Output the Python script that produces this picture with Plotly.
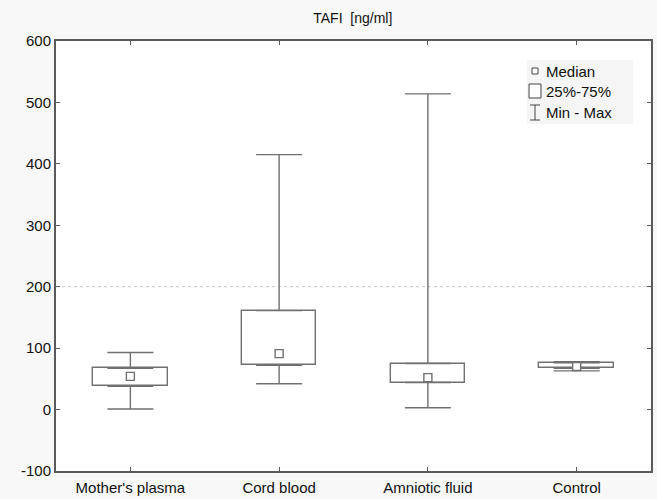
import plotly.graph_objects as go

categories = ["Mother's plasma", "Cord blood", "Amniotic fluid", "Control"]
mins = [1, 42, 3, 63]
q1 = [38, 72, 44, 67]
medians = [54, 91, 52, 70]
q3 = [67, 161, 75, 76]
maxs = [93, 415, 514, 78]
ref_line = 200
y_ticks = [-100, 0, 100, 200, 300, 400, 500, 600]
y_tick_labels = ["-100", "0", "100", "200", "300", "400", "500", "600"]

LINE = "#707070"
AXIS = "#5a5a5a"
FONT = "Liberation Sans, Arial, sans-serif"

fig = go.Figure()

# upper whisker: q3 -> max
fig.add_trace(go.Scatter(
    x=categories, y=q3, mode="markers",
    marker=dict(size=1, color="rgba(0,0,0,0)"),
    error_y=dict(type="data", symmetric=False,
                 array=[mx - b for mx, b in zip(maxs, q3)],
                 arrayminus=[0] * len(q3),
                 color=LINE, thickness=1.4, width=23),
    showlegend=False, hoverinfo="skip"))
# lower whisker: q1 -> min
fig.add_trace(go.Scatter(
    x=categories, y=q1, mode="markers",
    marker=dict(size=1, color="rgba(0,0,0,0)"),
    error_y=dict(type="data", symmetric=False,
                 array=[0] * len(q1),
                 arrayminus=[b - mn for b, mn in zip(q1, mins)],
                 color=LINE, thickness=1.4, width=23),
    showlegend=False, hoverinfo="skip"))
# boxes 25%-75%
fig.add_trace(go.Bar(
    x=categories, y=[b - a for a, b in zip(q1, q3)], base=q1,
    width=0.5, marker=dict(color="white", line=dict(color=LINE, width=1.4)),
    showlegend=False, hoverinfo="skip"))
# medians
fig.add_trace(go.Scatter(
    x=categories, y=medians, mode="markers",
    marker=dict(symbol="square", size=8, color="white",
                line=dict(color=LINE, width=1.4)),
    showlegend=False, hoverinfo="skip"))

fig.add_shape(type="line", xref="paper", x0=0, x1=1, yref="y", y0=ref_line, y1=ref_line,
              line=dict(color="#c8c8c8", width=1, dash="dot"), layer="below")

# custom legend (paper coordinates)
W, H = 657 - 56 - 6, 499 - 41 - 28
def px(x):
    return (x - 56) / W
def py(y):
    return 1 - (y - 41) / H

fig.add_shape(type="rect", xref="paper", yref="paper",
              x0=px(527), x1=px(633), y0=py(60), y1=py(124),
              fillcolor="#f5f5f5", line=dict(width=0), layer="below")
fig.add_shape(type="rect", xref="paper", yref="paper",
              x0=px(532), x1=px(538), y0=py(68), y1=py(74),
              line=dict(color="#444", width=1), fillcolor="white")
fig.add_shape(type="rect", xref="paper", yref="paper",
              x0=px(529), x1=px(541), y0=py(84), y1=py(98),
              line=dict(color="#444", width=1), fillcolor="white")
fig.add_shape(type="line", xref="paper", yref="paper",
              x0=px(535), x1=px(535), y0=py(105), y1=py(120),
              line=dict(color="#444", width=1))
fig.add_shape(type="line", xref="paper", yref="paper",
              x0=px(530), x1=px(540), y0=py(105), y1=py(105),
              line=dict(color="#444", width=1))
fig.add_shape(type="line", xref="paper", yref="paper",
              x0=px(530), x1=px(540), y0=py(120), y1=py(120),
              line=dict(color="#444", width=1))
for txt, yy in [("Median", 71), ("25%-75%", 91), ("Min - Max", 112)]:
    fig.add_annotation(text=txt, xref="paper", yref="paper", x=px(544), y=py(yy),
                       xanchor="left", yanchor="middle", showarrow=False,
                       font=dict(family=FONT, size=15, color="#111"))

fig.update_layout(
    width=657, height=499,
    margin=dict(l=56, r=6, t=41, b=28, autoexpand=False),
    paper_bgcolor="#f8f8f8", plot_bgcolor="white",
    font=dict(family=FONT, size=15, color="#111"),
    title=dict(text="TAFI  [ng/ml]", x=0.537, xanchor="center", y=0.964, yanchor="middle",
               font=dict(family=FONT, size=14, color="#111")),
    bargap=0, showlegend=False,
    xaxis=dict(range=[-0.5, 3.5], showline=True, linecolor=AXIS, linewidth=2,
               mirror="allticks", ticks="inside", ticklen=4, tickcolor=AXIS,
               showgrid=False, zeroline=False, tickfont=dict(size=15),
               automargin=False, ticklabelstandoff=2),
    yaxis=dict(range=[-100, 600], tickvals=y_ticks, ticktext=y_tick_labels,
               showline=True, linecolor=AXIS,
               linewidth=2, mirror="allticks", ticks="inside", ticklen=4, tickcolor=AXIS,
               showgrid=False, zeroline=False, tickfont=dict(size=15), automargin=False),
)

fig.write_html("out.html", config={"displayModeBar": False},
               post_script="document.body.style.margin='0';")
